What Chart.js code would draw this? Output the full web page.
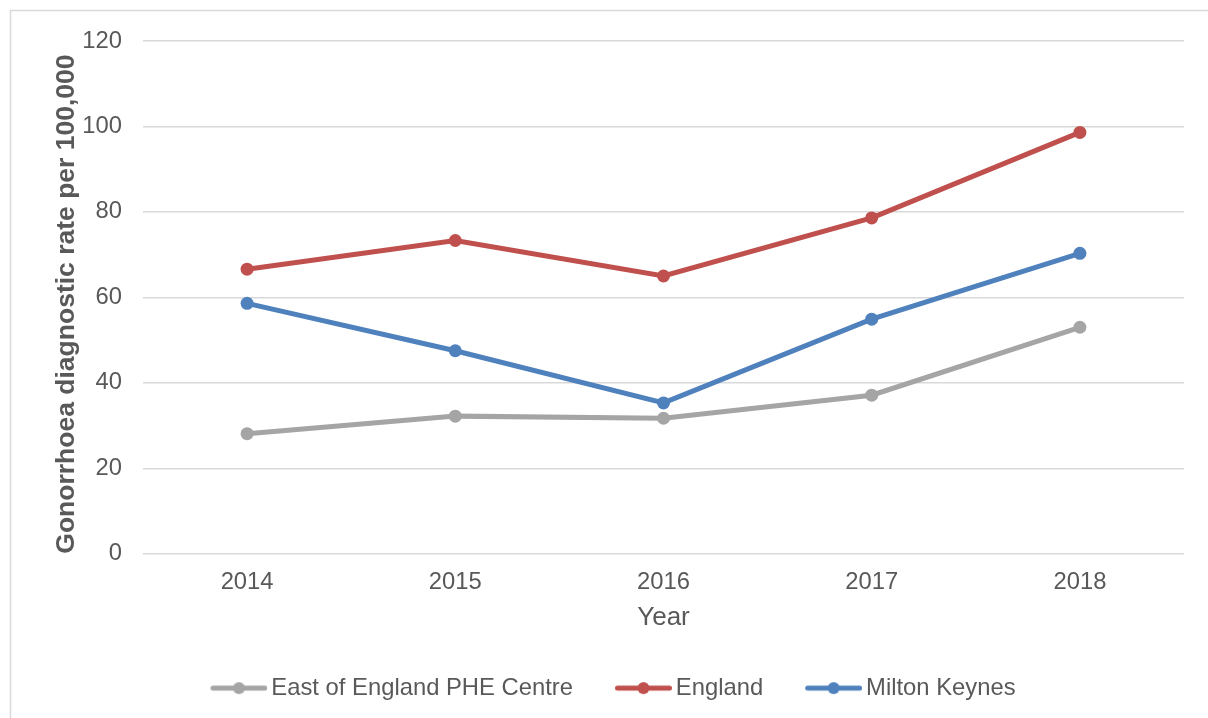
<!DOCTYPE html>
<html>
<head>
<meta charset="utf-8">
<title>Gonorrhoea diagnostic rate per 100,000</title>
<script src="https://cdn.jsdelivr.net/npm/chart.js@4/dist/chart.umd.min.js"></script>
<style>
  html, body { margin: 0; padding: 0; background: #ffffff; }
  canvas { display: block; }
</style>
</head>
<body>
<canvas id="chart" width="1208" height="718"></canvas>
<script>
// Year categories along the x axis
const years = ['2014', '2015', '2016', '2017', '2018'];

// Diagnostic rates per 100,000 population
const eastOfEngland = [28.1, 32.2, 31.7, 37.1, 53.0];
const england = [66.6, 73.3, 65.0, 78.6, 98.6];
const miltonKeynes = [58.6, 47.5, 35.3, 54.9, 70.3];

const seriesNames = ['East of England PHE Centre', 'England', 'Milton Keynes'];
const seriesColors = ['#A5A5A5', '#C0504D', '#4F81BD'];

// Y axis range
const yMin = 0;
const yMax = 120;
const yStep = 20;

const FONT = "'Liberation Sans', Arial, sans-serif";
const TEXT = '#595959';
const GRID = '#D9D9D9';

// Legend marker: a short thick line with a dot in the middle.
// Transparent space on the left keeps the marker tight to its label.
function legendMarker(color) {
  const c = document.createElement('canvas');
  const lead = 40, len = 57, h = 14;
  c.width = lead + len;
  c.height = h;
  const g = c.getContext('2d');
  g.strokeStyle = color;
  g.lineWidth = 5;
  g.lineCap = 'round';
  g.beginPath();
  g.moveTo(lead + 2.5, h / 2);
  g.lineTo(lead + len - 2.5, h / 2);
  g.stroke();
  g.fillStyle = color;
  g.beginPath();
  g.arc(lead + len / 2, h / 2, 6, 0, Math.PI * 2);
  g.fill();
  return c;
}

// White background and thin outer frame
const framePlugin = {
  id: 'frame',
  beforeDraw(chart) {
    const ctx = chart.ctx;
    ctx.save();
    ctx.fillStyle = '#ffffff';
    ctx.fillRect(0, 0, chart.width, chart.height);
    ctx.strokeStyle = GRID;
    ctx.lineWidth = 1.5;
    ctx.beginPath();
    ctx.moveTo(10.5, chart.height + 5);
    ctx.lineTo(10.5, 10.5);
    ctx.lineTo(chart.width + 5, 10.5);
    ctx.stroke();
    ctx.restore();
  }
};

const seriesData = [eastOfEngland, england, miltonKeynes];

const datasets = seriesData.map((values, i) => ({
  label: seriesNames[i],
  data: values,
  borderColor: seriesColors[i],
  backgroundColor: seriesColors[i],
  pointBackgroundColor: seriesColors[i],
  pointBorderColor: seriesColors[i],
  borderWidth: 5,
  pointRadius: 6.5,
  pointBorderWidth: 0,
  pointHoverRadius: 6.5,
  tension: 0,
  fill: false,
  order: seriesData.length - i
}));

new Chart(document.getElementById('chart'), {
  type: 'line',
  data: { labels: years, datasets: datasets },
  plugins: [framePlugin],
  options: {
    responsive: false,
    animation: false,
    devicePixelRatio: 1,
    layout: { padding: { left: 10, top: 41, right: 24, bottom: 8 } },
    plugins: {
      tooltip: { enabled: false },
      legend: {
        position: 'bottom',
        align: 'center',
        labels: {
          usePointStyle: true,
          pointStyleWidth: 81,
          boxHeight: 14,
          padding: 10,
          color: TEXT,
          font: { family: FONT, size: 23.8 },
          generateLabels(chart) {
            return chart.data.datasets.map((ds, i) => ({
              text: ds.label,
              fillStyle: ds.borderColor,
              strokeStyle: ds.borderColor,
              lineWidth: 0,
              pointStyle: legendMarker(ds.borderColor),
              fontColor: TEXT,
              hidden: false,
              datasetIndex: i
            }));
          }
        }
      }
    },
    scales: {
      x: {
        offset: true,
        grid: { display: false, drawTicks: false },
        border: { display: false },
        ticks: { color: TEXT, padding: 14, font: { family: FONT, size: 23.8 } },
        title: {
          display: true,
          text: 'Year',
          color: TEXT,
          padding: { top: 0, bottom: 33 },
          font: { family: FONT, size: 26 }
        },
        afterFit(scale) { scale.height = 112.5; }
      },
      y: {
        min: yMin,
        max: yMax,
        grid: { color: GRID, lineWidth: 1.5, drawTicks: false },
        border: { display: false },
        ticks: { stepSize: yStep, color: TEXT, padding: 21, font: { family: FONT, size: 23.8 } },
        title: {
          display: true,
          text: 'Gonorrhoea diagnostic rate per 100,000',
          align: 'start',
          color: TEXT,
          padding: { top: 41, bottom: 0 },
          font: { family: FONT, size: 26.5, weight: 'bold' }
        },
        afterFit(scale) { scale.width = 133; }
      }
    }
  }
});
</script>
</body>
</html>
